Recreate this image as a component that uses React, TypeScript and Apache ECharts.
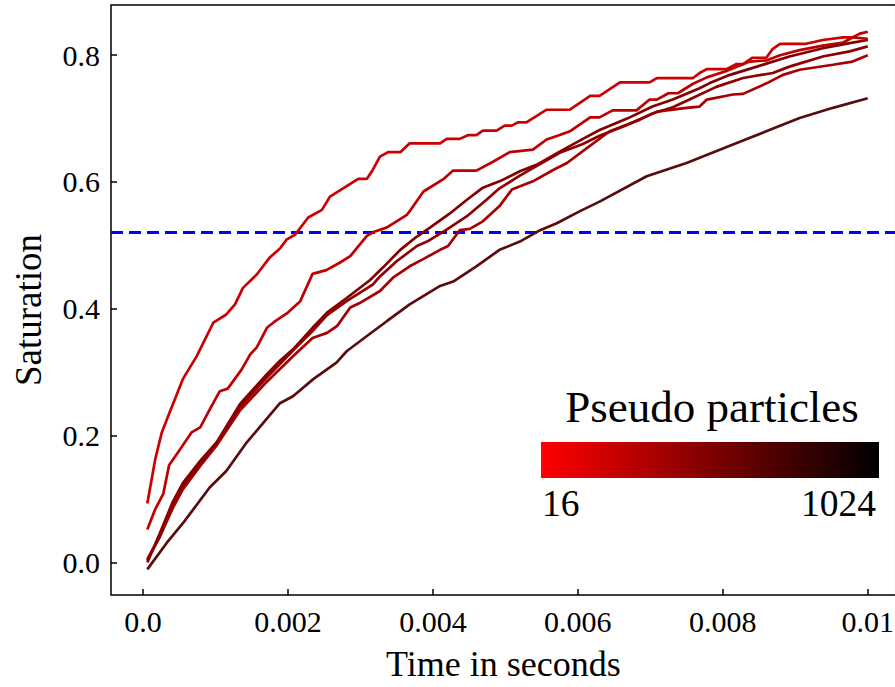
import React, { useEffect, useRef } from "react";
import * as echarts from "echarts";

// Axis ranges & ticks
const X_MIN = -0.000441;
const X_MAX = 0.010386;
const Y_MIN = -0.0515;
const Y_MAX = 0.8792;
const xTickValues = [0, 0.002, 0.004, 0.006, 0.008, 0.01];
const xTickLabels = ["0.0", "0.002", "0.004", "0.006", "0.008", "0.01"];
const yTickValues = [0, 0.2, 0.4, 0.6, 0.8];
const yTickLabels = ["0.0", "0.2", "0.4", "0.6", "0.8"];
const threshold = 0.522;
const xTitle = "Time in seconds";
const yTitle = "Saturation";
const colorbarTitle = "Pseudo particles";
const colorbarMin = "16";
const colorbarMax = "1024";

// Series: [time (s), saturation]
const p16: [number, number][] = [
  [0.00006, 0.093], [0.00017, 0.163], [0.00026, 0.205], [0.00037, 0.237], [0.00055, 0.289],
  [0.00074, 0.325], [0.00097, 0.378], [0.00115, 0.391], [0.00127, 0.407], [0.00138, 0.433],
  [0.00157, 0.454], [0.00175, 0.481], [0.00189, 0.495], [0.00198, 0.509], [0.0021, 0.517],
  [0.00228, 0.544], [0.00247, 0.556], [0.00258, 0.577], [0.00297, 0.605], [0.00309, 0.605],
  [0.00317, 0.619], [0.00327, 0.64], [0.00338, 0.647], [0.00355, 0.647], [0.00368, 0.661],
  [0.0041, 0.661], [0.00419, 0.668], [0.00437, 0.668], [0.00449, 0.674], [0.0046, 0.674],
  [0.00469, 0.681], [0.00488, 0.681], [0.00499, 0.689], [0.00509, 0.689], [0.00517, 0.694],
  [0.00529, 0.694], [0.00557, 0.714], [0.00589, 0.714], [0.00617, 0.736], [0.0063, 0.736],
  [0.00658, 0.757], [0.00699, 0.757], [0.00709, 0.764], [0.00759, 0.764], [0.00768, 0.772],
  [0.00778, 0.778], [0.00805, 0.778], [0.00819, 0.786], [0.00828, 0.786], [0.00841, 0.796],
  [0.0086, 0.796], [0.00869, 0.81], [0.00879, 0.818], [0.00915, 0.818], [0.00938, 0.824],
  [0.00966, 0.828], [0.00979, 0.828], [0.01, 0.826],
];
const p32: [number, number][] = [
  [0.00006, 0.052], [0.00017, 0.084], [0.00028, 0.108], [0.00036, 0.153], [0.00048, 0.173],
  [0.00067, 0.205], [0.00079, 0.213], [0.00092, 0.241], [0.00106, 0.27], [0.00117, 0.274],
  [0.00136, 0.304], [0.00148, 0.328], [0.00157, 0.339], [0.00171, 0.37], [0.00182, 0.38],
  [0.002, 0.394], [0.00217, 0.412], [0.00234, 0.455], [0.00253, 0.461], [0.00272, 0.473],
  [0.00286, 0.483], [0.00309, 0.515], [0.0032, 0.522], [0.00336, 0.528], [0.0035, 0.538],
  [0.00364, 0.548], [0.00368, 0.554], [0.00387, 0.585], [0.00414, 0.604], [0.00428, 0.618],
  [0.0046, 0.618], [0.00483, 0.632], [0.00506, 0.647], [0.00538, 0.651], [0.00557, 0.667],
  [0.00575, 0.674], [0.00589, 0.68], [0.00617, 0.702], [0.0063, 0.702], [0.00648, 0.713],
  [0.00681, 0.713], [0.00699, 0.73], [0.00709, 0.73], [0.00725, 0.74], [0.00738, 0.74],
  [0.00759, 0.755], [0.00778, 0.765], [0.00805, 0.775], [0.00837, 0.79], [0.00861, 0.792],
  [0.00879, 0.8], [0.00906, 0.808], [0.00938, 0.815], [0.00966, 0.82], [0.00979, 0.828],
  [0.00989, 0.834], [0.01, 0.837],
];
const p64: [number, number][] = [
  [0.00006, 0.005], [0.00023, 0.04], [0.00041, 0.085], [0.00055, 0.115], [0.00079, 0.152],
  [0.00102, 0.185], [0.00134, 0.24], [0.00171, 0.285], [0.00189, 0.305], [0.00207, 0.325],
  [0.00234, 0.354], [0.00254, 0.362], [0.00268, 0.373], [0.00286, 0.402], [0.00299, 0.409],
  [0.00327, 0.428], [0.00345, 0.449], [0.00368, 0.467], [0.00386, 0.478], [0.0041, 0.493],
  [0.00421, 0.499], [0.00437, 0.524], [0.00451, 0.526], [0.00469, 0.538], [0.00492, 0.562],
  [0.00509, 0.588], [0.00538, 0.601], [0.00566, 0.619], [0.00585, 0.63], [0.00612, 0.653],
  [0.00644, 0.68], [0.00685, 0.698], [0.00709, 0.711], [0.0075, 0.717], [0.00768, 0.719],
  [0.00778, 0.73], [0.00814, 0.738], [0.00828, 0.739], [0.00861, 0.756], [0.00883, 0.769],
  [0.00906, 0.777], [0.00952, 0.785], [0.00979, 0.79], [0.01, 0.8],
];
const p128: [number, number][] = [
  [0.00006, 0.0], [0.00023, 0.045], [0.00041, 0.095], [0.00055, 0.125], [0.00079, 0.16],
  [0.00102, 0.19], [0.00134, 0.25], [0.00171, 0.297], [0.00189, 0.318], [0.00207, 0.336],
  [0.00234, 0.37], [0.00254, 0.394], [0.00281, 0.417], [0.00313, 0.445], [0.00331, 0.465],
  [0.00355, 0.493], [0.00378, 0.514], [0.00396, 0.528], [0.00423, 0.55], [0.00447, 0.572],
  [0.00469, 0.591], [0.00492, 0.601], [0.0052, 0.617], [0.00543, 0.627], [0.00575, 0.648],
  [0.00607, 0.668], [0.0063, 0.682], [0.00668, 0.7], [0.00703, 0.719], [0.00731, 0.73],
  [0.00768, 0.748], [0.00782, 0.756], [0.0081, 0.769], [0.00847, 0.782], [0.00892, 0.798],
  [0.00938, 0.811], [0.00975, 0.819], [0.01, 0.824],
];
const p256: [number, number][] = [
  [0.00006, 0.003], [0.00023, 0.04], [0.00041, 0.09], [0.00055, 0.12], [0.00079, 0.155],
  [0.00102, 0.188], [0.00134, 0.245], [0.00171, 0.292], [0.00189, 0.313], [0.00207, 0.334],
  [0.00234, 0.365], [0.00254, 0.39], [0.00281, 0.412], [0.00317, 0.438], [0.00327, 0.451],
  [0.0035, 0.475], [0.00378, 0.499], [0.00392, 0.506], [0.00419, 0.525], [0.00447, 0.546],
  [0.00474, 0.572], [0.00492, 0.59], [0.0052, 0.61], [0.00543, 0.625], [0.00575, 0.646],
  [0.00607, 0.66], [0.0063, 0.673], [0.00668, 0.69], [0.00703, 0.708], [0.00731, 0.718],
  [0.00754, 0.73], [0.00791, 0.75], [0.00828, 0.764], [0.00869, 0.772], [0.00892, 0.782],
  [0.00938, 0.798], [0.00975, 0.806], [0.01, 0.814],
];
const p1024: [number, number][] = [
  [0.00006, -0.011], [0.00033, 0.031], [0.00056, 0.063], [0.00092, 0.118], [0.00115, 0.144],
  [0.00143, 0.189], [0.00166, 0.22], [0.00189, 0.251], [0.00207, 0.262], [0.00235, 0.289],
  [0.00267, 0.315], [0.00281, 0.333], [0.00309, 0.357], [0.00336, 0.38], [0.00368, 0.407],
  [0.0041, 0.436], [0.00428, 0.443], [0.0046, 0.467], [0.00492, 0.493], [0.0052, 0.506],
  [0.00548, 0.524], [0.00571, 0.535], [0.00603, 0.554], [0.0063, 0.569], [0.00695, 0.609],
  [0.0075, 0.63], [0.00814, 0.659], [0.0086, 0.68], [0.00906, 0.701], [0.00952, 0.717],
  [0.01, 0.732],
];

const seriesNames = ["16", "32", "64", "128", "256", "1024"];
const seriesData = [p16, p32, p64, p128, p256, p1024];
const seriesColors = ["#cc0000", "#c00000", "#a80000", "#820000", "#900000", "#5a0c0c"];

const FONT = "'Liberation Serif', 'Times New Roman', serif";

export default function App() {
  const ref = useRef<HTMLDivElement>(null);
  useEffect(() => {
    if (!ref.current) return;
    const chart = echarts.init(ref.current, undefined, { renderer: "svg" });
    const series: any[] = seriesData.map((d, i) => ({
      name: seriesNames[i],
      type: "line",
      data: d,
      showSymbol: false,
      symbol: "none",
      lineStyle: { color: seriesColors[i], width: 2.7 },
      itemStyle: { color: seriesColors[i] },
      z: 3,
      ...(i === 0
        ? {
            markLine: {
              silent: true,
              symbol: "none",
              label: { show: false },
              lineStyle: { color: "#0000ff", type: [12, 6], width: 3 },
              data: [{ yAxis: threshold }],
              z: 2,
            },
          }
        : {}),
    }));
    const tickFmt = (vals: number[], labels: string[]) => (v: number) => {
      const i = vals.findIndex((t) => Math.abs(t - v) < 1e-9);
      return i >= 0 ? labels[i] : "";
    };
    chart.setOption({
      animation: false,
      backgroundColor: "#ffffff",
      grid: {
        left: 111,
        top: 5,
        right: 1,
        bottom: 91,
        show: true,
        borderColor: "#000",
        borderWidth: 1.5,
        backgroundColor: "transparent",
      },
      xAxis: {
        type: "value",
        min: X_MIN,
        max: X_MAX,
        name: xTitle,
        nameLocation: "middle",
        nameGap: 51,
        nameTextStyle: { fontSize: 36, fontFamily: FONT, color: "#000" },
        axisLine: { show: false, onZero: false },
        splitLine: { show: false },
        axisTick: {
          show: true,
          inside: true,
          length: 6,
          customValues: xTickValues,
          lineStyle: { color: "#000", width: 1.5 },
        },
        axisLabel: {
          customValues: xTickValues,
          margin: 11,
          fontSize: 30,
          fontFamily: FONT,
          color: "#000",
          formatter: tickFmt(xTickValues, xTickLabels),
        },
      },
      yAxis: {
        type: "value",
        min: Y_MIN,
        max: Y_MAX,
        axisLine: { show: false, onZero: false },
        splitLine: { show: false },
        axisTick: {
          show: true,
          inside: true,
          length: 6,
          customValues: yTickValues,
          lineStyle: { color: "#000", width: 1.5 },
        },
        axisLabel: {
          customValues: yTickValues,
          margin: 11,
          fontSize: 30,
          fontFamily: FONT,
          color: "#000",
          formatter: tickFmt(yTickValues, yTickLabels),
        },
      },
      graphic: [
        {
          type: "text",
          x: 28,
          y: 310,
          rotation: Math.PI / 2,
          style: {
            text: yTitle,
            fontSize: 37,
            fontFamily: FONT,
            fill: "#000",
            align: "center",
            verticalAlign: "middle",
          },
          z: 10,
        },
        {
          type: "text",
          x: 712,
          y: 407,
          style: {
            text: colorbarTitle,
            fontSize: 45,
            fontFamily: FONT,
            fill: "#000",
            align: "center",
            verticalAlign: "middle",
          },
          z: 10,
        },
        {
          type: "rect",
          shape: { x: 541, y: 442, width: 338, height: 36 },
          style: {
            fill: new echarts.graphic.LinearGradient(0, 0, 1, 0, [
              { offset: 0, color: "#ff0000" },
              { offset: 1, color: "#000000" },
            ]),
          },
          z: 10,
        },
        {
          type: "text",
          x: 542,
          y: 503,
          style: {
            text: colorbarMin,
            fontSize: 37.5,
            fontFamily: FONT,
            fill: "#000",
            align: "left",
            verticalAlign: "middle",
          },
          z: 10,
        },
        {
          type: "text",
          x: 876,
          y: 503,
          style: {
            text: colorbarMax,
            fontSize: 37.5,
            fontFamily: FONT,
            fill: "#000",
            align: "right",
            verticalAlign: "middle",
          },
          z: 10,
        },
      ],
      series,
    });
    return () => chart.dispose();
  }, []);
  return (
    <div
      style={{
        position: "fixed",
        left: 0,
        top: 0,
        width: 895,
        height: 687,
        overflow: "hidden",
        background: "#fff",
      }}
    >
      <div ref={ref} style={{ width: 897, height: 687 }} />
    </div>
  );
}
